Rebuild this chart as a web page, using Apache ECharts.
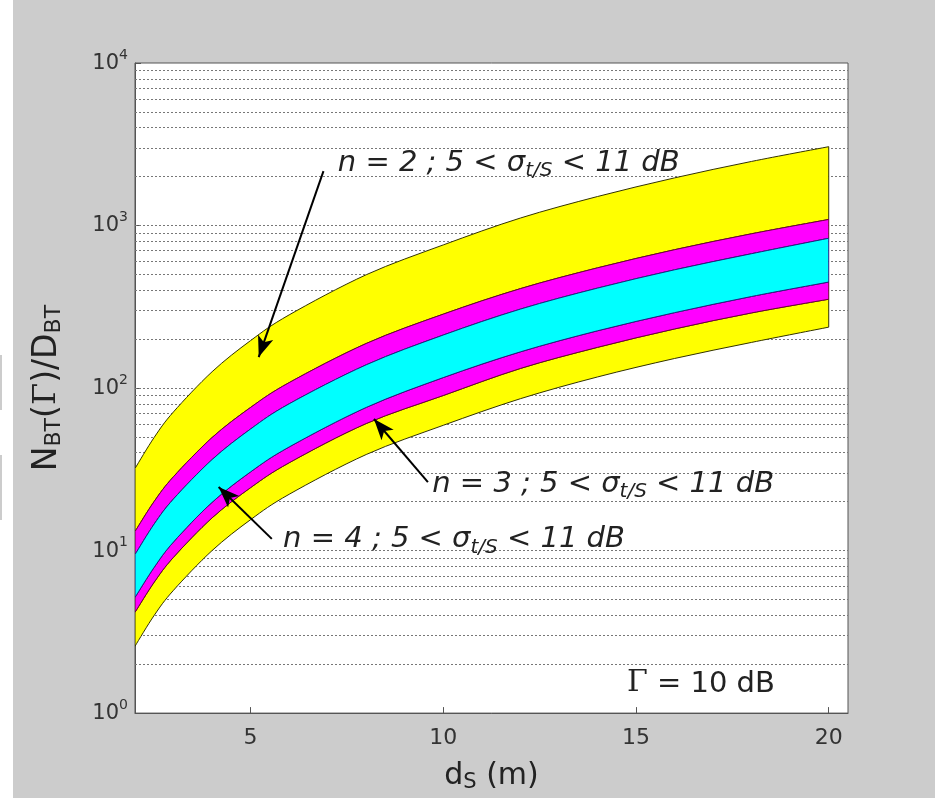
<!DOCTYPE html>
<html>
<head>
<meta charset="utf-8">
<script src="https://cdn.jsdelivr.net/npm/echarts@6/dist/echarts.min.js"></script>
<style>
  html, body { margin: 0; padding: 0; background: #fff; }
  #chart { width: 935px; height: 798px; }
</style>
</head>
<body>
<div id="chart"></div>
<script>
// distance d_S (m)
const xs = [2, 2.5, 3, 4, 5, 6, 8, 10, 12, 14, 16, 18, 20];

// band edges, bottom to top
const yellowBottom = [2.58, 4.0, 5.7, 10.0, 15.5, 22.2, 39, 59, 86, 117, 152, 191, 237];
const magentaBottom = [4.17, 6.4, 9.1, 15.9, 24.4, 34.7, 60.5, 90, 132, 178, 231, 290, 352];
const cyanBottom = [5.15, 7.9, 11.3, 19.8, 30.5, 43.4, 76, 116, 167, 225, 291, 366, 449];
const cyanTop = [9.45, 14.6, 20.8, 36.3, 56, 80, 139, 212, 306, 412, 534, 671, 835];
const magentaTop = [13.1, 20.1, 28.5, 49.6, 76, 108, 188, 285, 409, 549, 710, 890, 1090];
const yellowTop = [32, 49.8, 71.4, 126, 196, 282, 498, 760, 1112, 1508, 1964, 2480, 3056];

const xTicks = [5, 10, 15, 20];
const decades = [1, 10, 100, 1000];

// annotation texts and arrows (data coordinates)
const notes = [
  { n: 2, at: [7.25, 2356] },
  { n: 3, at: [9.7, 24.9] },
  { n: 4, at: [5.83, 11.4] }
];
const arrows = [
  [[6.89, 2163], [5.21, 155]],
  [[9.6, 26.4], [8.2, 64.5]],
  [[5.55, 11.8], [4.17, 24.6]]
];
const gammaNote = [14.75, 1.52];

const FONT = 'DejaVu Sans';

// dotted grid at 1..9 x 10^k
let gridValues = [];
decades.forEach(d => {
  for (let k = 1; k <= 9; k++) {
    if (d * k > 1) gridValues.push(d * k);
  }
});

// drawn in this order, later ones sit on top
const bands = [
  { lower: yellowBottom, upper: magentaBottom, fill: '#ffff00', stroke: '#333300' },
  { lower: magentaTop, upper: yellowTop, fill: '#ffff00', stroke: '#333300' },
  { lower: magentaBottom, upper: cyanBottom, fill: '#ff00ff', stroke: '#700035' },
  { lower: cyanTop, upper: magentaTop, fill: '#ff00ff', stroke: '#700035' },
  { lower: cyanBottom, upper: cyanTop, fill: '#00ffff', stroke: '#202088' }
];

// smooth curve through pixel points (catmull-rom as cubic beziers)
function curvePath(pts, move) {
  let d = (move ? 'M' : 'L') + pts[0][0] + ' ' + pts[0][1];
  for (let i = 0; i < pts.length - 1; i++) {
    const p0 = pts[Math.max(i - 1, 0)], p1 = pts[i], p2 = pts[i + 1], p3 = pts[Math.min(i + 2, pts.length - 1)];
    const c1 = [p1[0] + (p2[0] - p0[0]) / 6, p1[1] + (p2[1] - p0[1]) / 6];
    const c2 = [p2[0] - (p3[0] - p1[0]) / 6, p2[1] - (p3[1] - p1[1]) / 6];
    d += ' C' + c1[0] + ' ' + c1[1] + ' ' + c2[0] + ' ' + c2[1] + ' ' + p2[0] + ' ' + p2[1];
  }
  return d;
}

function renderBand(params, api) {
  const b = bands[params.dataIndex];
  const up = xs.map((x, j) => api.coord([x, b.upper[j]]));
  const lo = xs.map((x, j) => api.coord([x, b.lower[j]])).reverse();
  const d = curvePath(up, true) + ' ' + curvePath(lo, false) + ' Z';
  return {
    type: 'path',
    shape: { pathData: d },
    style: { fill: b.fill, stroke: b.stroke, lineWidth: 1 }
  };
}

const noteRich = {
  i: { fontFamily: FONT, fontStyle: 'italic', fontSize: 29, color: '#222', lineHeight: 32, verticalAlign: 'top' },
  s: { fontFamily: FONT, fontStyle: 'italic', fontSize: 20, color: '#222', lineHeight: 18, verticalAlign: 'bottom', padding: [20, 0, 0, 0] }
};

const series = [
  {
    // grid lines under the bands
    type: 'line',
    data: [],
    markLine: {
      silent: true,
      z: 1,
      symbol: 'none',
      label: { show: false },
      lineStyle: { color: '#777', type: [2, 2], width: 1 },
      data: gridValues.map(v => ({ yAxis: v }))
    }
  },
  {
    type: 'custom',
    z: 2,
    clip: true,
    renderItem: renderBand,
    data: bands.map(b => [xs[0], b.lower[0]])
  },
  {
    type: 'line',
    data: [],
    z: 6,
    symbol: 'none',
    markLine: {
      silent: true,
      symbol: ['none', 'arrow'],
      symbolSize: [12, 21],
      label: { show: false },
      lineStyle: { color: '#000', type: 'solid', width: 2 },
      data: arrows.map(a => [{ coord: a[0] }, { coord: a[1] }])
    },
    markPoint: {
      silent: true,
      symbol: 'circle',
      symbolSize: 1,
      itemStyle: { color: 'rgba(0,0,0,0)' },
      label: {
        show: true,
        position: 'right',
        distance: 0,
        rich: Object.assign({
          g: { fontFamily: 'DejaVu Serif', fontSize: 30, color: '#222', verticalAlign: 'bottom' },
          r: { fontFamily: FONT, fontSize: 29, color: '#222', verticalAlign: 'bottom' }
        }, noteRich)
      },
      data: notes.map(t => ({
        coord: t.at,
        label: { formatter: '{i|n = ' + t.n + ' ; 5 < σ}{s|t/S}{i| < 11 dB}' }
      })).concat([{
        coord: gammaNote,
        label: { formatter: '{g|Γ}{r| = 10 dB}' }
      }])
    }
  }
];

const chart = echarts.init(document.getElementById('chart'));
chart.setOption({
  animation: false,
  backgroundColor: '#cccccc',
  grid: {
    left: 135, right: 87, top: 63, bottom: 84,
    show: true, backgroundColor: '#fff', borderColor: '#555', borderWidth: 1
  },
  graphic: [
    { type: 'rect', left: 0, top: 0, shape: { width: 13, height: 798 }, style: { fill: '#fff' } },
    { type: 'line', shape: { x1: 1, y1: 355, x2: 1, y2: 410 }, style: { stroke: '#999', lineWidth: 1 } },
    { type: 'line', shape: { x1: 1, y1: 455, x2: 1, y2: 520 }, style: { stroke: '#999', lineWidth: 1 } }
  ],
  xAxis: {
    type: 'value',
    min: 2,
    max: 20.5,
    name: '{m|d}{s|S}{m| (m)}',
    nameLocation: 'middle',
    nameGap: 38,
    nameTextStyle: {
      rich: {
        m: { fontFamily: FONT, fontSize: 30, color: '#222', verticalAlign: 'top', lineHeight: 32 },
        s: { fontFamily: FONT, fontSize: 21, color: '#222', verticalAlign: 'bottom', lineHeight: 20, padding: [18, 0, 0, 0] }
      }
    },
    axisLine: { lineStyle: { color: '#555' } },
    axisTick: { inside: true, length: 6, customValues: xTicks, lineStyle: { color: '#555' } },
    axisLabel: { customValues: xTicks, margin: 14, fontFamily: FONT, fontSize: 22, color: '#333' },
    splitLine: { show: false }
  },
  yAxis: {
    type: 'log',
    min: 1,
    max: 10000,
    name: '{m|N}{s|BT}{m|(}{g|Γ}{m|)/D}{s|BT}',
    nameLocation: 'middle',
    nameRotate: 90,
    nameGap: 70,
    nameTextStyle: {
      rich: {
        m: { fontFamily: FONT, fontSize: 33, color: '#222', verticalAlign: 'top', lineHeight: 34 },
        g: { fontFamily: 'DejaVu Serif', fontSize: 32, color: '#222', verticalAlign: 'top', lineHeight: 34 },
        s: { fontFamily: FONT, fontSize: 22, color: '#222', verticalAlign: 'bottom', lineHeight: 20, padding: [19, 0, 0, 0] }
      }
    },
    axisLine: { lineStyle: { color: '#555' } },
    axisTick: { inside: true, length: 6, lineStyle: { color: '#555' } },
    axisLabel: {
      margin: 7,
      formatter: v => '{b|10}{e|' + Math.round(Math.log10(v)) + '}',
      rich: {
        b: { fontFamily: FONT, fontSize: 21, color: '#333', lineHeight: 22, verticalAlign: 'bottom' },
        e: { fontFamily: FONT, fontSize: 14, color: '#333', lineHeight: 14, verticalAlign: 'bottom', padding: [0, 0, 12, 0] }
      }
    },
    splitLine: { show: false }
  },
  series: series
});
</script>
</body>
</html>
